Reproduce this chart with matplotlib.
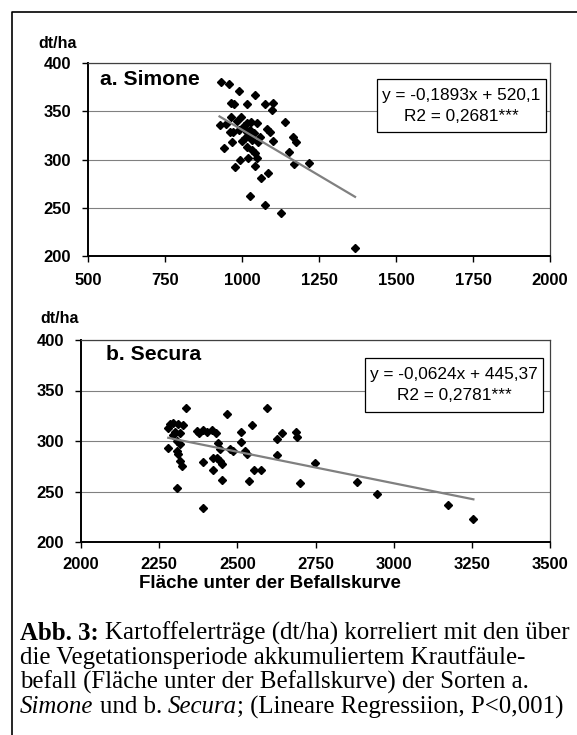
import numpy as np
import matplotlib
matplotlib.use("Agg")
import matplotlib.pyplot as plt
from matplotlib.patches import Rectangle
from matplotlib.lines import Line2D

plt.rcParams['font.family'] = ['Liberation Sans', 'DejaVu Sans']

# a. Simone: area under disease curve vs yield (dt/ha)
simone_x = [931, 957, 989, 1043, 963, 974, 1015, 1075, 1100, 1096,
            927, 947, 964, 997, 1015, 1030, 1048, 1140, 961, 972,
            991, 1015, 1026, 1080, 1091, 1020, 1031, 1058, 1102, 1167,
            1174, 968, 999, 942, 1017, 1031, 1042, 1153, 1020, 1048,
            994, 1169, 1219, 977, 1041, 1086, 1063, 1026, 1076, 1127,
            1367, 1005, 1040, 1052, 985, 1010]
simone_y = [380, 378, 371, 367, 359, 358, 358, 358, 359, 351,
            336, 337, 344, 344, 338, 339, 338, 339, 328, 329,
            331, 329, 331, 332, 329, 324, 320, 323, 319, 323,
            318, 318, 319, 312, 313, 310, 307, 308, 302, 302,
            300, 295, 296, 292, 293, 286, 281, 262, 253, 245,
            208, 335, 327, 318, 340, 322]
simone_eq = "y = -0,1893x + 520,1"
simone_r2 = "R2 = 0,2681***"
simone_coef = (-0.1893, 520.1)

# b. Secura
secura_x = [2279, 2293, 2285, 2300, 2311, 2316, 2327, 2295, 2336, 2370,
            2378, 2391, 2402, 2418, 2432, 2468, 2511, 2546, 2279, 2306,
            2316, 2439, 2445, 2511, 2476, 2485, 2524, 2530, 2306, 2311,
            2316, 2322, 2423, 2434, 2389, 2445, 2450, 2421, 2553, 2576,
            2450, 2536, 2306, 2389, 2594, 2642, 2626, 2688, 2690, 2626,
            2700, 2748, 2884, 2948, 3175, 3255]
secura_y = [313, 318, 317, 309, 317, 308, 316, 306, 333, 310,
            308, 311, 309, 311, 308, 327, 309, 316, 293, 300,
            297, 298, 292, 299, 292, 290, 290, 287, 290, 287,
            280, 275, 283, 283, 279, 280, 277, 271, 271, 271,
            261, 260, 253, 234, 333, 308, 302, 309, 304, 286,
            258, 278, 259, 248, 237, 223]
secura_eq = "y = -0,0624x + 445,37"
secura_r2 = "R2 = 0,2781***"
secura_coef = (-0.0624, 445.37)

# caption as runs of (text, style)
caption = [
    [("Abb. 3:", "bold"), (" Kartoffelerträge (dt/ha) korreliert mit den über", "normal")],
    [("die Vegetationsperiode akkumuliertem Krautfäule-", "normal")],
    [("befall (Fläche unter der Befallskurve) der Sorten a.", "normal")],
    [("Simone", "italic"), (" und b. ", "normal"), ("Secura", "italic"),
     ("; (Lineare Regressiion, P<0,001)", "normal")],
]

W, H = 577, 735
fig = plt.figure(figsize=(W / 100, H / 100), dpi=100)


def px_axes(left, top, right, bottom):
    return fig.add_axes([left / W, 1 - bottom / H, (right - left) / W, (bottom - top) / H])


def style_panel(ax, xlim, xticks, label, label_pos, eq, r2, box, xpad):
    ax.set_xlim(*xlim)
    ax.set_ylim(200, 400)
    ax.set_xticks(xticks)
    ax.set_yticks([200, 250, 300, 350, 400])
    ax.yaxis.grid(True, color='#808080', lw=0.8)
    ax.set_axisbelow(True)
    for s in ['left', 'bottom']:
        ax.spines[s].set_linewidth(1.4)
        ax.spines[s].set_color('black')
    for s in ['top', 'right']:
        ax.spines[s].set_linewidth(0.9)
        ax.spines[s].set_color('#404040')
    ax.tick_params(direction='out', length=4, width=1, labelsize=12)
    ax.tick_params(axis='x', pad=xpad)
    ax.tick_params(axis='y', pad=8)
    for t in ax.get_xticklabels() + ax.get_yticklabels():
        t.set_fontweight('bold')
    ax.text(label_pos[0], label_pos[1], label, transform=ax.transAxes, fontsize=15.2,
            fontweight='bold', va='center', ha='left')
    x0, y0, w, h = box
    ax.add_patch(Rectangle((x0, y0), w, h, transform=ax.transAxes,
                           fc='white', ec='black', lw=0.9, zorder=5))
    ax.text(x0 + w / 2, y0 + h * 0.69, eq, transform=ax.transAxes,
            fontsize=12.4, ha='center', va='center', zorder=6)
    ax.text(x0 + w / 2, y0 + h * 0.30, r2, transform=ax.transAxes,
            fontsize=12.4, ha='center', va='center', zorder=6)


def draw(ax, xs, ys, coef):
    xs = np.array(xs)
    ax.plot(xs, ys, 'D', color='black', ms=4.4, zorder=3, clip_on=False)
    lx = np.array([xs.min(), xs.max()])
    ax.plot(lx, coef[0] * lx + coef[1], color='#808080', lw=1.6, zorder=4)


ax1 = px_axes(88, 63, 550, 256)
draw(ax1, simone_x, simone_y, simone_coef)
style_panel(ax1, (500, 2000), [500, 750, 1000, 1250, 1500, 1750, 2000],
            "a. Simone", (0.026, 0.917), simone_eq, simone_r2,
            ((377 - 88) / 462, 1 - (132 - 63) / 193, 169 / 462, 53 / 193), 8.5)

ax2 = px_axes(81, 340, 550, 542)
draw(ax2, secura_x, secura_y, secura_coef)
style_panel(ax2, (2000, 3500), [2000, 2250, 2500, 2750, 3000, 3250, 3500],
            "b. Secura", (0.053, 0.926), secura_eq, secura_r2,
            ((365 - 81) / 469, 1 - (412 - 340) / 202, 178 / 469, 54 / 202), 6.5)

fig.text(38 / W, 1 - 44 / H, "dt/ha", fontsize=11.5, fontweight='bold', va='center')
fig.text(40 / W, 1 - 319 / H, "dt/ha", fontsize=11.5, fontweight='bold', va='center')
fig.text(270 / W, 1 - 584 / H, "Fläche unter der Befallskurve", fontsize=13.5,
         fontweight='bold', ha='center', va='center')

# outer frame (left and top)
fig.add_artist(Line2D([12 / W, 12 / W, 1], [0, 1 - 12 / H, 1 - 12 / H],
                      transform=fig.transFigure, color='black', lw=1.2))

# caption, drawn run by run
serif = ['Liberation Serif', 'DejaVu Serif']
cap = 17.9
line_y = [633, 658, 682, 707]
renderer = fig.canvas.get_renderer()


def run_width(s, style):
    kw = dict(fontsize=cap, family=serif,
              fontweight='bold' if style == 'bold' else 'normal',
              fontstyle='italic' if style == 'italic' else 'normal')
    a = fig.text(0, 0, "x" + s + "x", **kw)
    b = fig.text(0, 0, "xx", **kw)
    w = a.get_window_extent(renderer).width - b.get_window_extent(renderer).width
    a.remove()
    b.remove()
    return w, kw


for runs, yy in zip(caption, line_y):
    xpx = 20
    for s, style in runs:
        w, kw = run_width(s, style)
        lead = len(s) - len(s.lstrip(' '))
        sw, _ = run_width(' ' * lead, 'normal') if lead else (0, None)
        fig.text((xpx + sw) / W, 1 - yy / H, s.strip(' '), va='center', **kw)
        xpx += w

fig.savefig("out.png", dpi=100)
